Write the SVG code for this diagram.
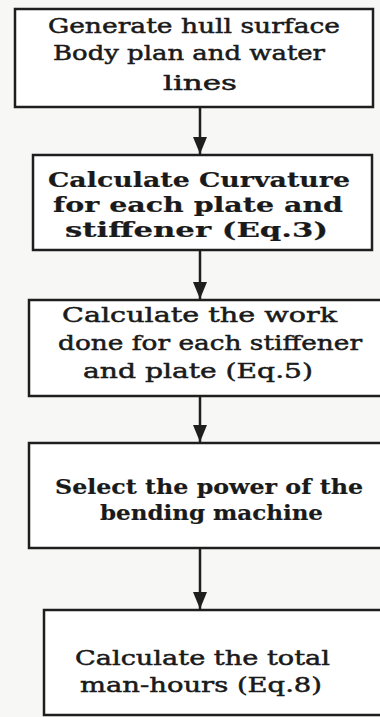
<svg xmlns="http://www.w3.org/2000/svg" width="380" height="717" viewBox="0 0 380 717">
<style>
.box{fill:#ffffff;stroke:#1e1e1e;stroke-width:2.5}
.t{font-family:"DejaVu Serif","Liberation Serif",serif;font-size:21px;fill:#1a1a1a;stroke:#1a1a1a;stroke-width:0.5}
.b{font-weight:bold;stroke-width:0.2}
.c{stroke:#1e1e1e;stroke-width:2.5;fill:none}
</style>
<defs>
<marker id="ah" markerUnits="userSpaceOnUse" markerWidth="18" markerHeight="14" refX="17" refY="7" orient="auto">
<path d="M0,0 L17,7 L0,14 Z" fill="#1e1e1e"/>
</marker>
</defs>
<rect width="380" height="717" fill="#f7f7f5"/>
<g id="connectors">
<line class="c" x1="200" y1="107" x2="200" y2="154" marker-end="url(#ah)"/>
<line class="c" x1="200" y1="250" x2="200" y2="299" marker-end="url(#ah)"/>
<line class="c" x1="200" y1="396" x2="200" y2="442" marker-end="url(#ah)"/>
<line class="c" x1="200" y1="548" x2="200" y2="609" marker-end="url(#ah)"/>
</g>
<g id="n1">
<rect class="box" x="15" y="9" width="358" height="98"/>
<text class="t" x="48" y="33" textLength="292" lengthAdjust="spacingAndGlyphs">Generate  hull surface</text>
<text class="t" x="53" y="60" textLength="272" lengthAdjust="spacingAndGlyphs">Body plan and water</text>
<text class="t" x="163" y="90" textLength="74" lengthAdjust="spacingAndGlyphs">lines</text>
</g>
<g id="n2">
<rect class="box" x="33" y="155" width="339" height="95"/>
<text class="t b" x="48" y="187" textLength="302" lengthAdjust="spacingAndGlyphs">Calculate Curvature</text>
<text class="t b" x="53" y="212" textLength="290" lengthAdjust="spacingAndGlyphs">for each plate and</text>
<text class="t b" x="65" y="237" textLength="263" lengthAdjust="spacingAndGlyphs">stiffener (Eq.3)</text>
</g>
<g id="n3">
<rect class="box" x="29" y="300" width="355" height="96"/>
<text class="t" x="62" y="322" textLength="275" lengthAdjust="spacingAndGlyphs">Calculate the work</text>
<text class="t" x="58" y="350" textLength="304" lengthAdjust="spacingAndGlyphs">done for each stiffener</text>
<text class="t" x="83" y="378" textLength="230" lengthAdjust="spacingAndGlyphs">and plate (Eq.5)</text>
</g>
<g id="n4">
<rect class="box" x="29" y="443" width="355" height="105"/>
<text class="t b" x="55" y="494" textLength="308" lengthAdjust="spacingAndGlyphs">Select the power of the</text>
<text class="t b" x="100" y="520" textLength="223" lengthAdjust="spacingAndGlyphs">bending machine</text>
</g>
<g id="n5">
<rect class="box" x="44" y="610" width="340" height="105"/>
<text class="t" x="75" y="665" textLength="255" lengthAdjust="spacingAndGlyphs">Calculate the total</text>
<text class="t" x="80" y="692" textLength="242" lengthAdjust="spacingAndGlyphs">man-hours (Eq.8)</text>
</g>
</svg>
